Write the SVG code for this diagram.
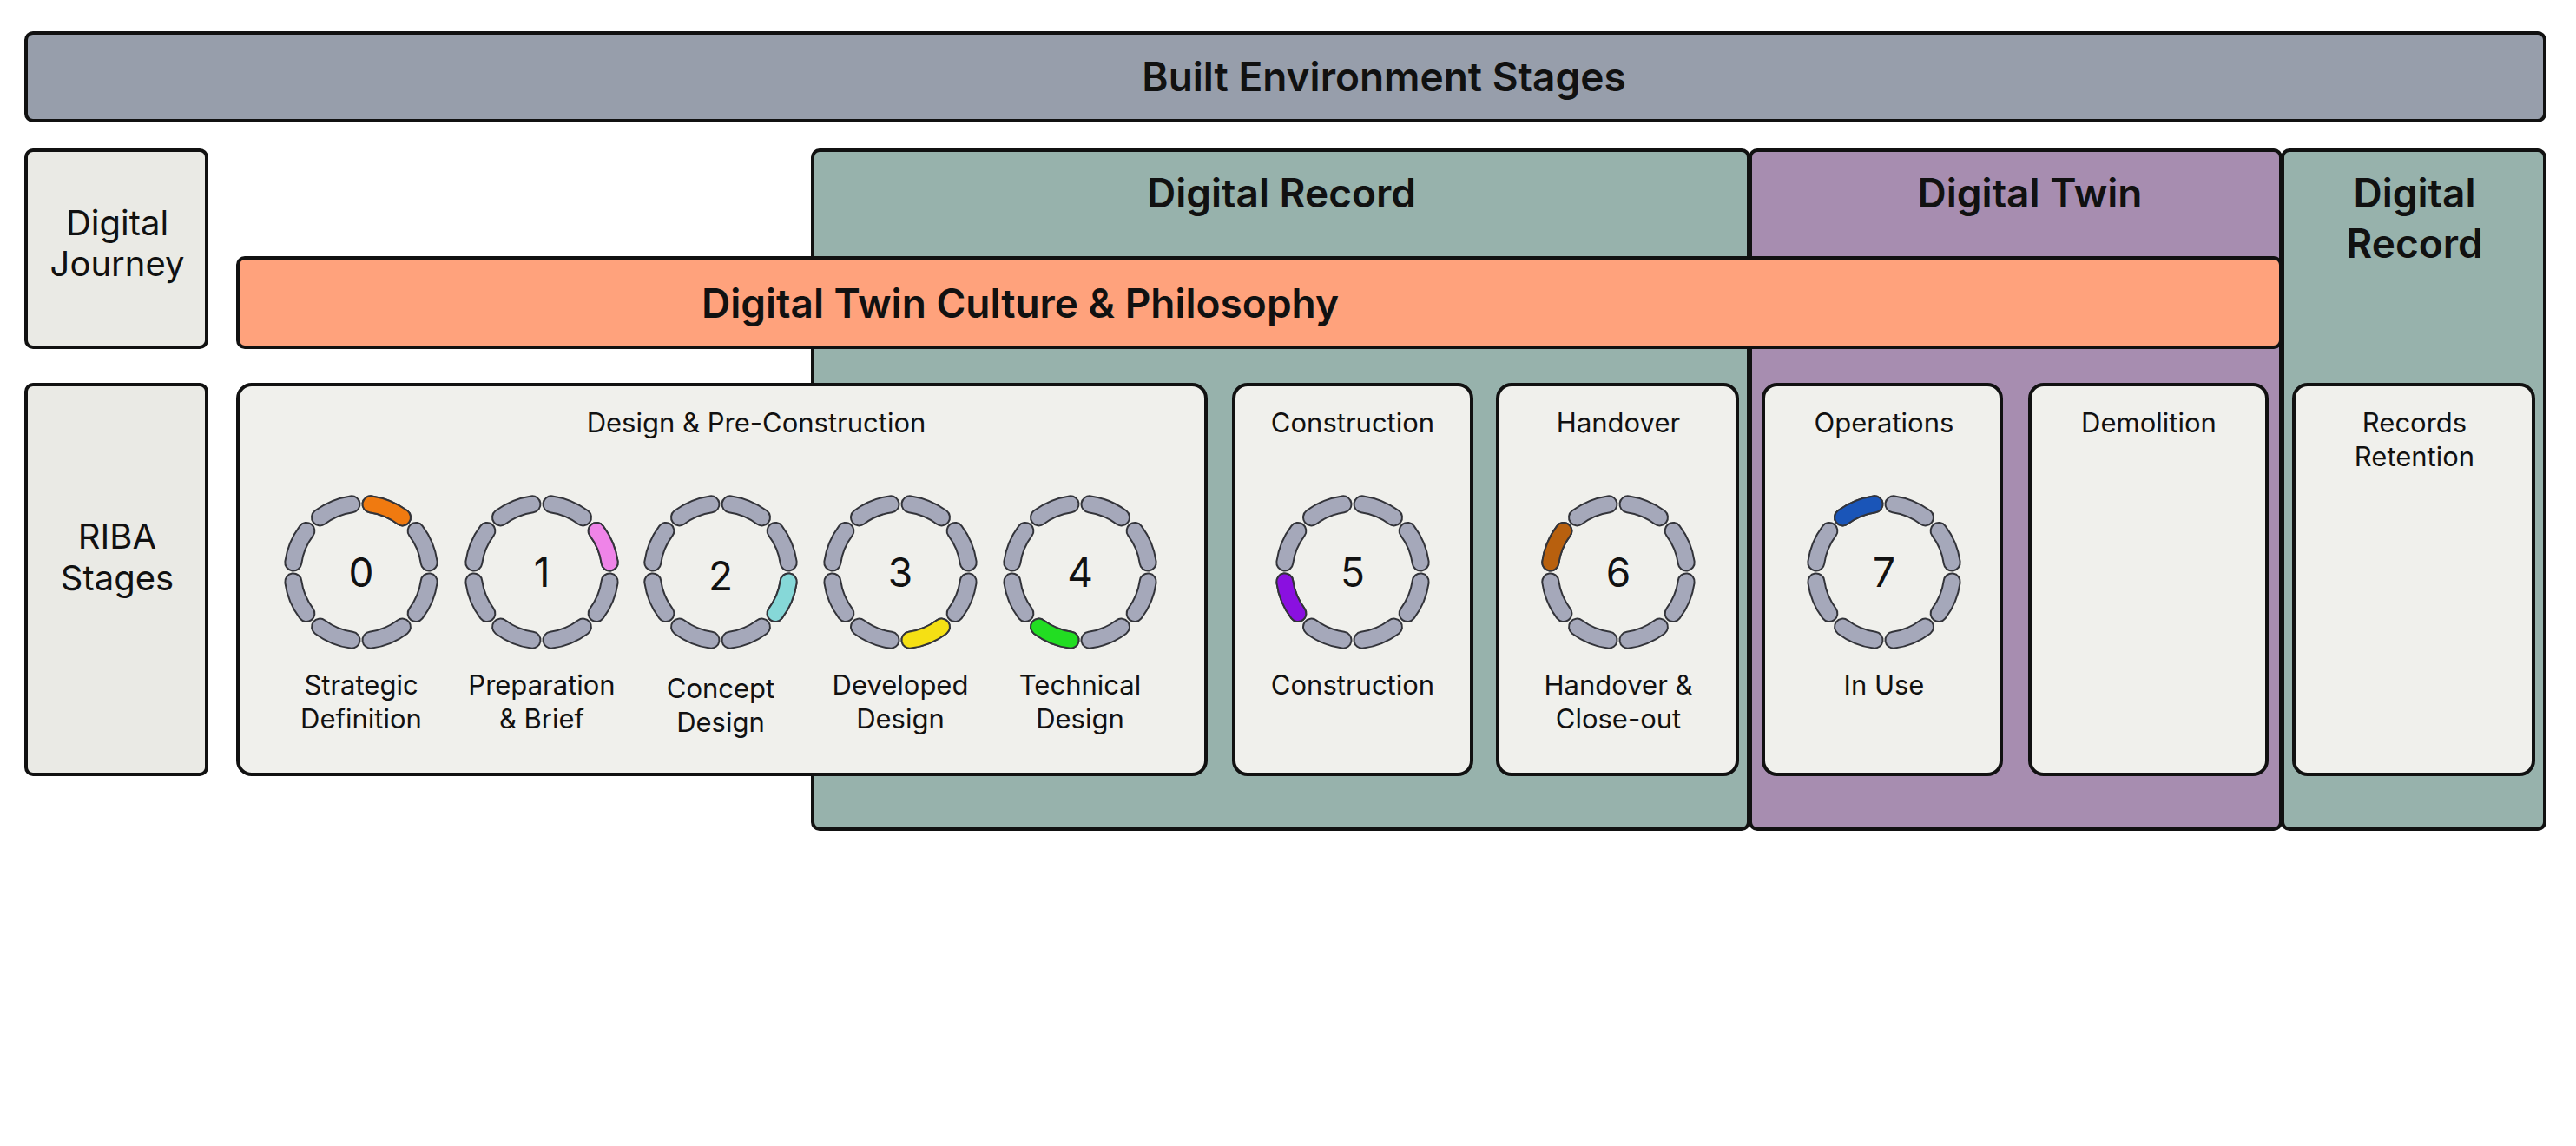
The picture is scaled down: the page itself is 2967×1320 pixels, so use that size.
<svg xmlns="http://www.w3.org/2000/svg" xmlns:xlink="http://www.w3.org/1999/xlink" width="2967" height="1320" viewBox="0 0 2967 1320">
<style>
.bx{stroke:#111;stroke-width:4}
.t{font-family:Inter,"Noto Sans","Liberation Sans",sans-serif;fill:#111;text-anchor:middle}
.h{font-weight:600;font-size:46px}
.m{font-size:40px}
.s{font-size:31px}
.n{font-size:46px}
.o{fill:none;stroke:#33343a;stroke-width:21;stroke-linecap:round}
.g{fill:none;stroke:#a5a8ba;stroke-width:17;stroke-linecap:round}
</style>
<defs>
<path id="s0" d="M11 -78.2A79 79 0 0 1 47.5 -63.1"/>
<path id="s1" d="M63.1 -47.5A79 79 0 0 1 78.2 -11"/>
<path id="s2" d="M78.2 11A79 79 0 0 1 63.1 47.5"/>
<path id="s3" d="M47.5 63.1A79 79 0 0 1 11 78.2"/>
<path id="s4" d="M-11 78.2A79 79 0 0 1 -47.5 63.1"/>
<path id="s5" d="M-63.1 47.5A79 79 0 0 1 -78.2 11"/>
<path id="s6" d="M-78.2 -11A79 79 0 0 1 -63.1 -47.5"/>
<path id="s7" d="M-47.5 -63.1A79 79 0 0 1 -11 -78.2"/>
<g id="ring">
<use href="#s0" class="o"/><use href="#s1" class="o"/><use href="#s2" class="o"/><use href="#s3" class="o"/><use href="#s4" class="o"/><use href="#s5" class="o"/><use href="#s6" class="o"/><use href="#s7" class="o"/>
<use href="#s0" class="g"/><use href="#s1" class="g"/><use href="#s2" class="g"/><use href="#s3" class="g"/><use href="#s4" class="g"/><use href="#s5" class="g"/><use href="#s6" class="g"/><use href="#s7" class="g"/>
</g>
</defs>
<rect width="2967" height="1320" fill="#fff"/>
<g id="built-env"><rect class="bx" x="30" y="38" width="2901" height="101" rx="8" fill="#979eab"/><text class="t h" x="1594" y="105">Built Environment Stages</text></g>
<g id="digital-record"><rect class="bx" x="936" y="173" width="1078" height="782" rx="8" fill="#97b2ac"/><text class="t h" x="1476" y="239">Digital Record</text></g>
<g id="digital-twin"><rect class="bx" x="2016" y="173" width="611" height="782" rx="8" fill="#a78db0"/><text class="t h" x="2338" y="239">Digital Twin</text></g>
<g id="digital-record-2"><rect class="bx" x="2629" y="173" width="302" height="782" rx="8" fill="#97b2ac"/><text class="t h" x="2781" y="239">Digital</text><text class="t h" x="2781" y="297">Record</text></g>
<g id="digital-journey"><rect class="bx" x="30" y="173" width="208" height="227" rx="8" fill="#eaeae5"/><text class="t m" x="135" y="271">Digital</text><text class="t m" x="135" y="318">Journey</text></g>
<g id="culture"><rect class="bx" x="274" y="297" width="2353" height="103" rx="8" fill="#ffa27c"/><text class="t h" x="1175" y="366">Digital Twin Culture &amp; Philosophy</text></g>
<g id="riba"><rect class="bx" x="30" y="443" width="208" height="449" rx="8" fill="#eaeae5"/><text class="t m" x="135" y="632">RIBA</text><text class="t m" x="135" y="680">Stages</text></g>
<g id="design"><rect class="bx" x="274" y="443" width="1115" height="449" rx="16" fill="#f0f0ec"/><text class="t s" x="871" y="498">Design &amp; Pre-Construction</text></g>
<g id="construction"><rect class="bx" x="1421" y="443" width="274" height="449" rx="16" fill="#f0f0ec"/><text class="t s" x="1558" y="498">Construction</text></g>
<g id="handover"><rect class="bx" x="1725" y="443" width="276" height="449" rx="16" fill="#f0f0ec"/><text class="t s" x="1864" y="498">Handover</text></g>
<g id="operations"><rect class="bx" x="2031" y="443" width="274" height="449" rx="16" fill="#f0f0ec"/><text class="t s" x="2170" y="498">Operations</text></g>
<g id="demolition"><rect class="bx" x="2338" y="443" width="273" height="449" rx="16" fill="#f0f0ec"/><text class="t s" x="2475" y="498">Demolition</text></g>
<g id="records"><rect class="bx" x="2642" y="443" width="276" height="449" rx="16" fill="#f0f0ec"/><text class="t s" x="2781" y="498">Records</text><text class="t s" x="2781" y="537">Retention</text></g>
<g id="stage0" transform="translate(416,659)"><use href="#ring"/><use href="#s0" class="o"/><use href="#s0" class="g" style="stroke:#f07a10"/><text class="t n" y="17">0</text><text class="t s" y="141">Strategic</text><text class="t s" y="180">Definition</text></g>
<g id="stage1" transform="translate(624,659)"><use href="#ring"/><use href="#s1" class="o"/><use href="#s1" class="g" style="stroke:#ef84e8"/><text class="t n" y="17">1</text><text class="t s" y="141">Preparation</text><text class="t s" y="180">&amp; Brief</text></g>
<g id="stage2" transform="translate(830,659)"><use href="#ring"/><use href="#s2" class="o"/><use href="#s2" class="g" style="stroke:#86d8d8"/><text class="t n" y="21">2</text><text class="t s" y="145">Concept</text><text class="t s" y="184">Design</text></g>
<g id="stage3" transform="translate(1037,659)"><use href="#ring"/><use href="#s3" class="o"/><use href="#s3" class="g" style="stroke:#f5e014"/><text class="t n" y="17">3</text><text class="t s" y="141">Developed</text><text class="t s" y="180">Design</text></g>
<g id="stage4" transform="translate(1244,659)"><use href="#ring"/><use href="#s4" class="o"/><use href="#s4" class="g" style="stroke:#22dd22"/><text class="t n" y="17">4</text><text class="t s" y="141">Technical</text><text class="t s" y="180">Design</text></g>
<g id="stage5" transform="translate(1558,659)"><use href="#ring"/><use href="#s5" class="o"/><use href="#s5" class="g" style="stroke:#8a10e0"/><text class="t n" y="17">5</text><text class="t s" y="141">Construction</text></g>
<g id="stage6" transform="translate(1864,659)"><use href="#ring"/><use href="#s6" class="o"/><use href="#s6" class="g" style="stroke:#b8600e"/><text class="t n" y="17">6</text><text class="t s" y="141">Handover &amp;</text><text class="t s" y="180">Close-out</text></g>
<g id="stage7" transform="translate(2170,659)"><use href="#ring"/><use href="#s7" class="o"/><use href="#s7" class="g" style="stroke:#1a55b8"/><text class="t n" y="17">7</text><text class="t s" y="141">In Use</text></g>
<g id="connectors"/>
</svg>
